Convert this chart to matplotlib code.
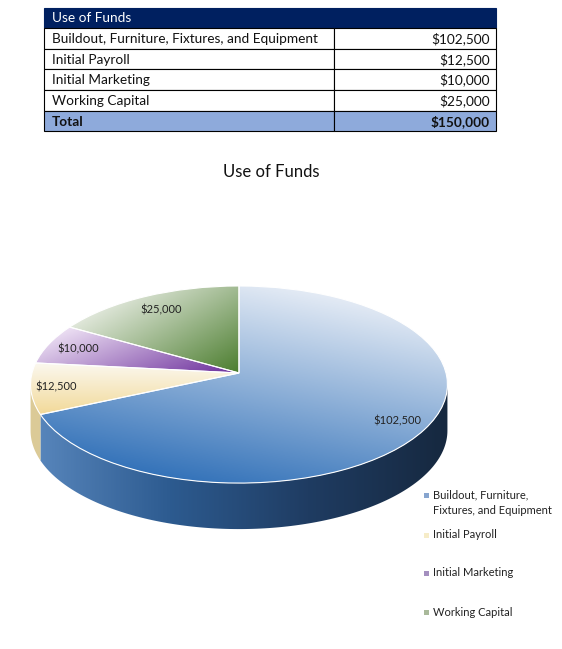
import matplotlib
matplotlib.use('Agg')
import matplotlib.pyplot as plt
import numpy as np
from matplotlib.patches import Rectangle, Polygon
from matplotlib.colors import LinearSegmentedColormap
from matplotlib.transforms import Transform

plt.rcParams['font.family'] = ['Lato', 'DejaVu Sans']

# ---------------- data ----------------
table_title = 'Use of Funds'
chart_title = 'Use of Funds'
categories = ['Buildout, Furniture, Fixtures, and Equipment', 'Initial Payroll',
              'Initial Marketing', 'Working Capital']
legend_labels = ['Buildout, Furniture,\nFixtures, and Equipment', 'Initial Payroll',
                 'Initial Marketing', 'Working Capital']
values = [102500, 12500, 10000, 25000]
total_label = 'Total'

# ---------------- styles ----------------
top_colors = [('#e4ebf5', '#3372b9'), ('#fbf8ef', '#f2d998'),
              ('#ecdff3', '#6a2c9a'), ('#e0e7da', '#4b7d2e')]
top_dirs = [(-0.2, -1.0), (0.0, -1.0), (0.4, -1.0), (0.6, -1.0)]
side_colors = [['#5a88be', '#2d5b90', '#1f3c62', '#16283f'],
               ['#dccb98', '#c9b57c'],
               ['#5a2a80', '#4a2270'],
               ['#3f6a25', '#355a1f']]
legend_colors = ['#87a5cf', '#f6ecc8', '#a48fbf', '#a9b99a']
label_radius = [0.86, 0.88, 0.84, 0.81]

W, H = 562, 649
fig = plt.figure(figsize=(W / 100, H / 100), dpi=100)

# ---------------- table ----------------
axT = fig.add_axes([0, 0, 1, 1])
axT.set_xlim(0, W)
axT.set_ylim(H, 0)
axT.axis('off')
x0, x1, xc = 44, 496, 334
row_edges = [8, 28, 49, 69, 90, 111, 131]
tfs = 9.8
axT.add_patch(Rectangle((x0, row_edges[0]), x1 - x0, row_edges[1] - row_edges[0],
                        fc='#002060', ec='#002060', lw=0.8))
axT.text(x0 + 8, (row_edges[0] + row_edges[1]) / 2 + 0.5, table_title, color='white',
         va='center', ha='left', fontsize=tfs)
rows = list(zip(categories, values)) + [(total_label, sum(values))]
for i, (lab, val) in enumerate(rows):
    ya, yb = row_edges[i + 1], row_edges[i + 2]
    is_total = i == len(rows) - 1
    fc = '#8eaadb' if is_total else 'white'
    axT.add_patch(Rectangle((x0, ya), xc - x0, yb - ya, fc=fc, ec='black', lw=0.8))
    axT.add_patch(Rectangle((xc, ya), x1 - xc, yb - ya, fc=fc, ec='black', lw=0.8))
    fw = 'bold' if is_total else 'normal'
    axT.text(x0 + 8, (ya + yb) / 2 + 0.5, lab, va='center', ha='left', fontsize=tfs,
             fontweight=fw, color='#111111')
    axT.text(x1 - 6, (ya + yb) / 2 + 0.5, f'${val:,}', va='center', ha='right',
             fontsize=tfs, fontweight=fw, color='#111111')

fig.text(271 / W, 1 - 172 / H, chart_title, fontsize=12, ha='center', va='center',
         color='#111111')


# ---------------- 3D-like pie (perspective) ----------------
class Persp(Transform):
    """Unit-circle pie coords -> pixel offsets from the pie apex (perspective tilt)."""
    input_dims = 2
    output_dims = 2
    is_separable = False
    has_inverse = False

    def __init__(self, b, sx, sy):
        super().__init__()
        self.b, self.sx, self.sy = b, sx, sy

    def transform_non_affine(self, values):
        v = np.asarray(values, float)
        one = v.ndim == 1
        v = v.reshape(-1, 2)
        den = 1 + self.b * v[:, 1]
        out = np.column_stack([self.sx * v[:, 0] / den, self.sy * v[:, 1] / den])
        return out[0] if one else out


apex_x, apex_y = 239, 373
tilt_b = 0.117
persp = Persp(tilt_b, 207, 97.2)
side_depth = 46   # pixels
edge_deg = np.degrees(np.arcsin(tilt_b))   # silhouette angle of the side

ax_left_px, ax_right_px, ax_top_px, ax_bot_px = 0, 480, 270, 545
ax = fig.add_axes([ax_left_px / W, 1 - ax_bot_px / H,
                   (ax_right_px - ax_left_px) / W, (ax_bot_px - ax_top_px) / H])

tot = sum(values)


def fmt(p):
    v = round(p * tot / 100 / 500) * 500
    return f'${v:,.0f}'


wedges, _, autotexts = ax.pie(values, startangle=90, counterclock=False, radius=1,
                              autopct=fmt, pctdistance=0.85,
                              colors=[c[1] for c in top_colors],
                              textprops=dict(fontsize=8, color='#222222'))
ax.set_aspect('auto')

n = 300
ext = (-215, 215, -180, 110)
gx, gy = np.meshgrid(np.linspace(ext[0], ext[1], n), np.linspace(ext[2], ext[3], n))
for i, w in enumerate(wedges):
    w.set_transform(persp + ax.transData)
    w.set_facecolor('none')
    w.set_edgecolor('white')
    w.set_linewidth(0.8)
    w.set_zorder(4)
    d = np.array(top_dirs[i])
    d = d / np.linalg.norm(d)
    verts = persp.transform(w.get_path().vertices)
    s = verts @ d
    smin, smax = s.min(), s.max()
    t = (gx * d[0] + gy * d[1] - smin) / (smax - smin)
    cmap = LinearSegmentedColormap.from_list(f'top{i}', list(top_colors[i]))
    im = ax.imshow(np.clip(t, 0, 1), extent=ext, origin='lower',
                   aspect='auto', cmap=cmap, vmin=0, vmax=1, zorder=3,
                   interpolation='bilinear')
    im.set_clip_path(w)

    # label position along the slice's mid-angle
    mid = np.radians((w.theta1 + w.theta2) / 2)
    autotexts[i].set_position(persp.transform(
        (label_radius[i] * np.cos(mid), label_radius[i] * np.sin(mid))))
    autotexts[i].set_zorder(6)

    # side (front visible part)
    for k in (-360, 0, 360):
        a1 = max(w.theta1 + k, -180 + edge_deg)
        a2 = min(w.theta2 + k, -edge_deg)
        if a2 - a1 <= 0.01:
            continue
        tt = np.radians(np.linspace(a1, a2, 160))
        top_xy = persp.transform(np.column_stack([np.cos(tt), np.sin(tt)]))
        bot_xy = top_xy - np.array([0, side_depth])
        poly_xy = np.concatenate([top_xy, bot_xy[::-1]])
        poly = Polygon(poly_xy, closed=True, fc='none', lw=0, zorder=2)
        ax.add_patch(poly)
        scmap = LinearSegmentedColormap.from_list(f'side{i}{k}', side_colors[i])
        sx = np.linspace(0, 1, n)
        simg = np.tile(sx, (20, 1))
        sim = ax.imshow(simg, extent=(-210, 210, ext[2], 0), origin='lower',
                        aspect='auto', cmap=scmap, vmin=0, vmax=1, zorder=2,
                        interpolation='bilinear')
        sim.set_clip_path(poly)

ax.set_xlim(ax_left_px - apex_x, ax_right_px - apex_x)
ax.set_ylim(apex_y - ax_bot_px, apex_y - ax_top_px)
ax.axis('off')

# ---------------- legend ----------------
leg_first_y = [495, 535, 573, 612]
leg_line_gap = 16
for lab, col, y in zip(legend_labels, legend_colors, leg_first_y):
    axT.add_patch(Rectangle((424, y - 2.5), 5, 5, fc=col, ec='none'))
    for j, line in enumerate(lab.split('\n')):
        axT.text(433, y + j * leg_line_gap, line, fontsize=8, va='center', ha='left',
                 color='#222222')

fig.savefig('out.png', dpi=100)
